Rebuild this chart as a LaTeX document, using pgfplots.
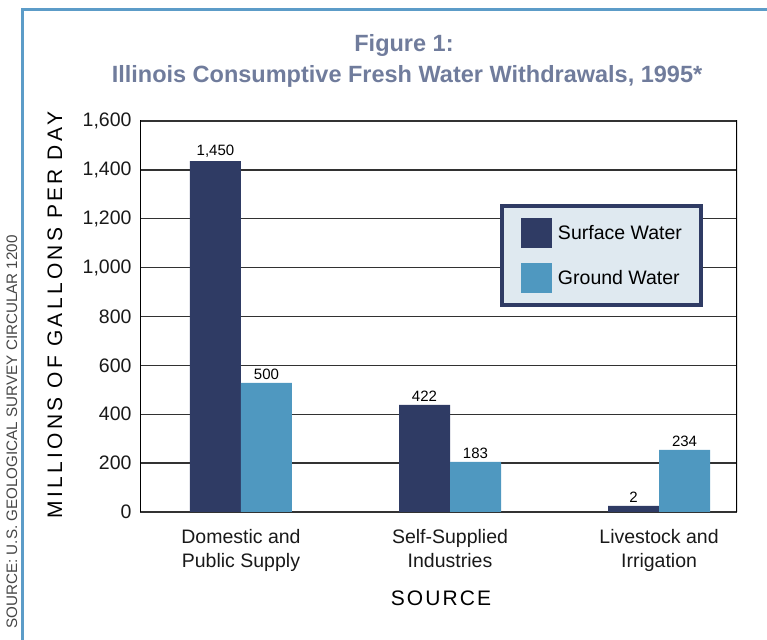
\documentclass[border=0pt]{standalone}
\usepackage{pgfplots}
\pgfplotsset{compat=1.18}
\usepackage{pgfplotstable}
\usepackage{fontspec}
\setmainfont{Liberation Sans}
\definecolor{surf}{RGB}{47,59,100}
\definecolor{ground}{RGB}{79,152,192}
\definecolor{frameblue}{RGB}{92,156,200}
\definecolor{titlecol}{RGB}{112,124,156}
\definecolor{legfill}{RGB}{223,233,240}
\definecolor{gridcol}{RGB}{50,50,50}
\definecolor{srcgray}{RGB}{70,70,70}

% x: category index, y: drawn bar height, label: printed value
\pgfplotstableread{
x y label
0 1436 1450
1 438 422
2 25 2
}\surfacedata
\pgfplotstableread{
x y label
0 528 500
1 205 183
2 254 234
}\grounddata

\begin{document}
\begin{tikzpicture}[x=1pt,y=1pt]
\useasboundingbox (0,0) rectangle (767,639);
% frame
\draw[frameblue, line width=3pt] (22,-10) -- (22,629) -- (790,629);
% titles
\node[font=\fontsize{23.5}{26}\selectfont\bfseries, text=titlecol] at (404,594) {Figure 1:};
\node[font=\fontsize{23.5}{26}\selectfont\bfseries, text=titlecol] at (407,563) {Illinois Consumptive Fresh Water Withdrawals, 1995*};
% source note
\node[font=\fontsize{15.2}{17}\selectfont, text=srcgray, rotate=90, anchor=east, inner sep=0pt] at (12,404) {SOURCE: U.S. GEOLOGICAL SURVEY CIRCULAR 1200};
% axis labels
\node[font=\fontsize{21}{22}\selectfont\addfontfeature{LetterSpace=15.5}, rotate=90] at (55,324) {MILLIONS OF GALLONS PER DAY};
\node[font=\fontsize{21}{22}\selectfont\addfontfeature{LetterSpace=10}] at (441,41) {SOURCE};
\begin{axis}[
  at={(140pt,127pt)}, anchor=south west,
  scale only axis, width=597pt, height=391pt,
  xmin=-0.483, xmax=2.373, ymin=0, ymax=1600,
  ybar, bar width=51pt,
  axis line style={draw=none},
  tick style={draw=none},
  ymajorgrids, grid style={gridcol, line width=1.3pt},
  ytick={0,200,...,1600},
  /pgf/number format/assume math mode=true,
  /pgf/number format/1000 sep={,},
  yticklabel style={font=\fontsize{19.5}{20}\selectfont, text=black!90, xshift=-5pt},
  xtick={0,1,2},
  xticklabels={{Domestic and\\Public Supply},{Self-Supplied\\Industries},{Livestock and\\Irrigation}},
  xticklabel style={font=\fontsize{19.5}{24}\selectfont, align=center, text=black!90, yshift=-10pt},
  nodes near coords,
  point meta=explicit,
  every node near coord/.append style={font=\fontsize{15}{16}\selectfont, text=black},
  legend image code/.code={\fill[#1] (0pt,-15pt) rectangle (31pt,15pt);},
  legend style={at={(rel axis cs:0.603,0.788)}, anchor=north west,
    draw=surf, line width=4pt, fill=legfill,
    inner xsep=19pt, inner ysep=12pt, row sep=15pt,
    font=\fontsize{19.5}{22}\selectfont,
    nodes={inner sep=0pt},
    /tikz/every odd column/.append style={column sep=6pt}},
  legend cell align=left,
]
\addplot[fill=surf, draw=none, bar shift=-25.5pt] table[x=x, y=y, meta=label] {\surfacedata};
\addplot[fill=ground, draw=none, bar shift=25.5pt] table[x=x, y=y, meta=label] {\grounddata};
\legend{Surface Water, Ground Water}
\draw[black, line width=2.2pt] (rel axis cs:0,-0.018) -- (rel axis cs:0,1.008);
\draw[black, line width=2.2pt] (rel axis cs:1,-0.02) -- (rel axis cs:1,1.008);
\end{axis}
\end{tikzpicture}
\end{document}
